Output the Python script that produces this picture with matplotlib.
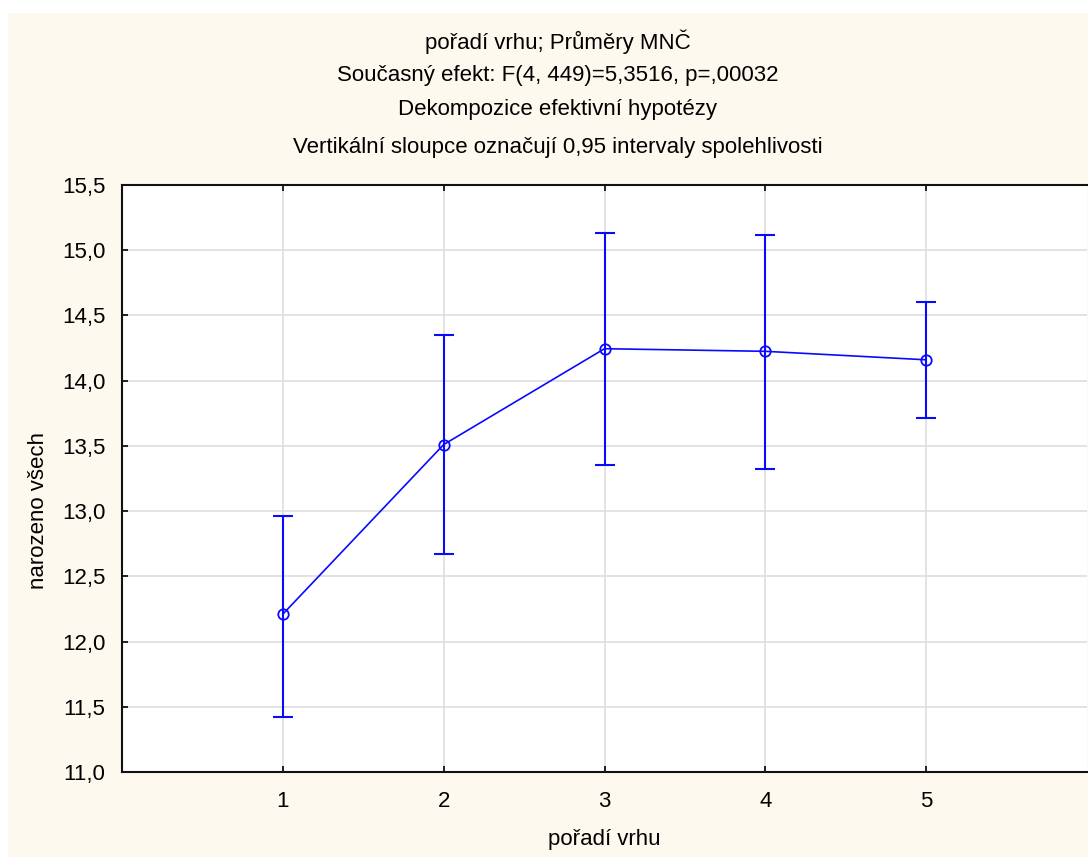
import matplotlib
matplotlib.use("Agg")
import matplotlib.pyplot as plt
from matplotlib.patches import Rectangle
from matplotlib.ticker import FuncFormatter

plt.rcParams['font.family'] = ['Liberation Sans', 'DejaVu Sans']

# Data
categories = [1, 2, 3, 4, 5]
means = [12.21, 13.51, 14.245, 14.225, 14.16]
ci_upper = [12.965, 14.35, 15.13, 15.115, 14.60]
ci_lower = [11.42, 12.67, 13.355, 13.325, 13.71]
title_lines = [
    "pořadí vrhu; Průměry MNČ",
    "Současný efekt: F(4, 449)=5,3516, p=,00032",
    "Dekompozice efektivní hypotézy",
    "Vertikální sloupce označují 0,95 intervaly spolehlivosti",
]
xlabel = "pořadí vrhu"
ylabel = "narozeno všech"

W, H = 1088, 857
fig = plt.figure(figsize=(W / 100, H / 100), dpi=100, facecolor='white')
cream = '#FEF9EE'
fig.patches.append(Rectangle((8 / W, 0), 1 - 8 / W, (H - 13) / H,
                             transform=fig.transFigure, facecolor=cream,
                             edgecolor='none', zorder=-10))

ax = fig.add_axes([122 / W, (H - 772) / H, (1087 - 122) / W, (772 - 185) / H])
ax.set_facecolor('white')

blue = '#0A0AFF'
yerr = [[m - l for m, l in zip(means, ci_lower)],
        [u - m for m, u in zip(means, ci_upper)]]
ax.errorbar(categories, means, yerr=yerr, fmt='none', ecolor=blue,
            elinewidth=1.5, capsize=7, capthick=1.5, zorder=3)
ax.plot(categories, means, color=blue, lw=1.2, marker='o', markersize=7.5,
        markerfacecolor='none', markeredgecolor=blue, markeredgewidth=1.3,
        zorder=4)

ax.set_xlim(0, 6)
ax.set_ylim(11.0, 15.5)
ax.set_xticks(categories)
ax.set_yticks([11.0, 11.5, 12.0, 12.5, 13.0, 13.5, 14.0, 14.5, 15.0, 15.5])
ax.yaxis.set_major_formatter(FuncFormatter(lambda v, p: f"{v:.1f}".replace('.', ',')))
ax.grid(True, color='#DEDEDE', lw=1.2, zorder=0)
ax.set_axisbelow(True)
ax.tick_params(direction='in', length=4, width=1.2, labelsize=16,
               colors='black', top=True, right=False, pad=12)
ax.tick_params(axis='x', pad=14)
for s in ['left', 'bottom', 'top']:
    ax.spines[s].set_linewidth(1.5)
    ax.spines[s].set_color('#111111')
ax.spines['right'].set_visible(False)

ax.set_xlabel(xlabel, fontsize=16, labelpad=12)
ax.set_ylabel(ylabel, fontsize=16)
ax.yaxis.set_label_coords(-0.076, 0.445)

ys = [42, 76, 110, 147]
for t, y in zip(title_lines, ys):
    fig.text(558 / W, 1 - y / H, t, ha='center', va='center', fontsize=16)

fig.savefig('out.png', dpi=100, facecolor=fig.get_facecolor())
